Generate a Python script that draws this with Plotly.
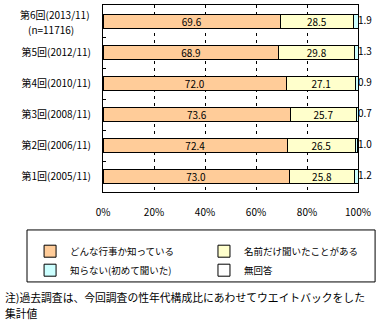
import plotly.graph_objects as go

# Data (bottom -> top order as drawn)
categories = ["第1回(2005/11)", "第2回(2006/11)", "第3回(2008/11)",
              "第4回(2010/11)", "第5回(2012/11)", "第6回(2013/11)"]
sample_note = "(n=11716)"
know_event = [73.0, 72.4, 73.6, 72.0, 68.9, 69.6]
name_only = [25.8, 26.5, 25.7, 27.1, 29.8, 28.5]
dont_know = [1.2, 1.0, 0.7, 0.9, 1.3, 1.9]
no_answer = [0.0, 0.1, 0.0, 0.0, 0.0, 0.0]
series_names = ["どんな行事か知っている", "名前だけ聞いたことがある", "知らない(初めて聞いた)", "無回答"]
colors = ["#FFCC99", "#FFFFCC", "#CCFFFF", "#FFFFFF"]
x_ticks = [0, 20, 40, 60, 80, 100]
x_ticklabels = ["0%", "20%", "40%", "60%", "80%", "100%"]
note_lines = ["注)過去調査は、今回調査の性年代構成比にあわせてウエイトバックをした", "集計値"]

FONT = "Noto Sans CJK JP"
FS = 10
LFS = 9.5
NFS = 10.8

legend_ids = ["legend", "legend2", "legend", "legend2"]

fig = go.Figure()
for i, (vals, name) in enumerate(zip([know_event, name_only, dont_know, no_answer], series_names)):
    show_text = i < 2
    fig.add_trace(go.Bar(
        y=categories, x=vals, name=name, orientation="h",
        marker=dict(color=colors[i], line=dict(color="black", width=1)),
        text=[f"{v:.1f}" for v in vals] if show_text else None,
        textposition="inside" if show_text else "none",
        insidetextanchor="middle", textangle=0, constraintext="none",
        textfont=dict(color="black", size=FS, family=FONT),
        legend=legend_ids[i],
        hoverinfo="skip",
    ))

# outside labels for the small segment
fig.add_trace(go.Scatter(
    y=categories, x=[100] * len(categories), mode="text",
    text=[f"{v:.1f}" for v in dont_know], textposition="middle right",
    textfont=dict(color="black", size=FS, family=FONT),
    showlegend=False, cliponaxis=False, hoverinfo="skip",
))

leg_common = dict(orientation="v", yanchor="top", xanchor="left",
                  font=dict(size=LFS, family=FONT), bgcolor="rgba(0,0,0,0)",
                  traceorder="normal", itemclick=False, tracegroupgap=0)

# tick labels: the top category label is drawn as two annotation lines
tick_text = categories[:-1] + [""]

annotations = [
    dict(text=categories[-1], xref="paper", yref="y", x=-0.043, y=categories[-1],
         yshift=7, xanchor="right", yanchor="middle", showarrow=False,
         font=dict(size=FS, family=FONT)),
    dict(text=sample_note, xref="paper", yref="y", x=-0.204, y=categories[-1],
         yshift=-8, xanchor="center", yanchor="middle", showarrow=False,
         font=dict(size=FS, family=FONT)),
    dict(text=note_lines[0], xref="paper", yref="paper", x=-0.392, y=-0.561,
         xanchor="left", yanchor="middle", align="left", showarrow=False,
         font=dict(size=NFS, family=FONT)),
    dict(text=note_lines[1], xref="paper", yref="paper", x=-0.392, y=-0.645,
         xanchor="left", yanchor="middle", align="left", showarrow=False,
         font=dict(size=NFS, family=FONT)),
]

fig.update_layout(
    width=382, height=322,
    margin=dict(l=103, r=24, t=5, b=130),
    barmode="stack", bargap=0.53,
    plot_bgcolor="white", paper_bgcolor="white",
    font=dict(family=FONT, size=FS, color="black"),
    showlegend=True,
    legend=dict(x=-0.286, y=-0.239, **leg_common),
    legend2=dict(x=0.396, y=-0.239, **leg_common),
    xaxis=dict(
        range=[0, 100], tickvals=x_ticks, ticktext=x_ticklabels,
        showgrid=True, gridcolor="black", griddash="3px,4px", gridwidth=1,
        showline=True, linecolor="black", linewidth=1, mirror=True,
        ticks="", ticklabelstandoff=11, zeroline=False,
        fixedrange=True,
    ),
    yaxis=dict(
        type="category", categoryorder="array", categoryarray=categories,
        tickvals=categories, ticktext=tick_text,
        showline=True, linecolor="black", linewidth=1, mirror=True,
        ticks="inside", tickson="boundaries", ticklen=3, tickcolor="black",
        ticklabelstandoff=9, showgrid=False,
        fixedrange=True,
    ),
    shapes=[dict(type="rect", xref="paper", yref="paper",
                 x0=-0.298, x1=1.067, y0=-0.481, y1=-0.203,
                 line=dict(color="black", width=1), fillcolor="rgba(0,0,0,0)")],
    annotations=annotations,
)

fig.write_html("out.html")
